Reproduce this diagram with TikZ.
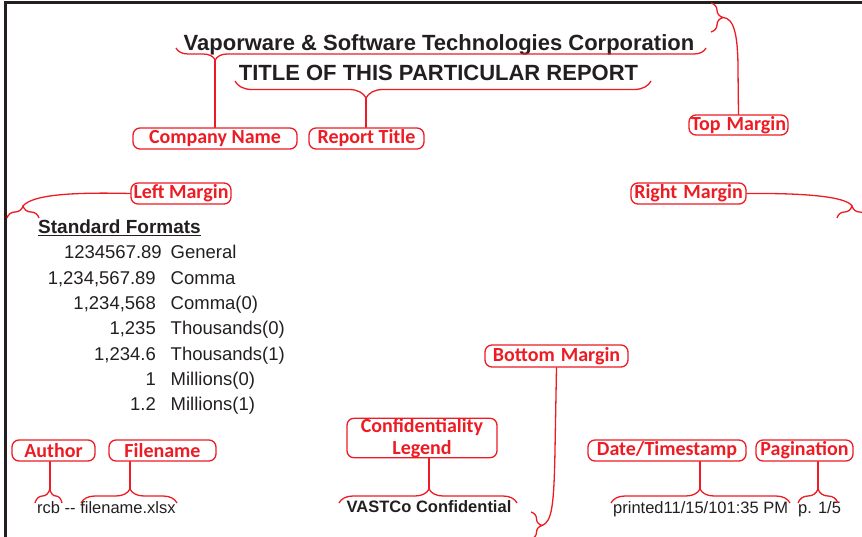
\documentclass[tikz,border=0pt]{standalone}
\usepackage{fontspec}
\setmainfont{Liberation Sans}[Ligatures=TeXOff]
\newfontfamily\lblfont{Carlito}
\usepackage{tikz}
\usetikzlibrary{calc,decorations.pathreplacing}
\definecolor{mark}{HTML}{ED1C24}
\definecolor{ink}{HTML}{231F20}
\tikzset{
  page/.style={draw=ink, line width=3pt},
  lbl/.style={draw=mark, text=mark, line width=1.3pt, rounded corners=7pt, inner sep=0pt,
    minimum height=21pt, font=\lblfont\bfseries\fontsize{20}{21}\selectfont},
  lnk/.style={draw=mark, line width=1.3pt, line cap=round},
  brc/.style={draw=mark, line width=1.3pt, decorate, decoration={brace, amplitude=#1}},
  brc/.default=12pt,
  ttl/.style={text=ink, inner sep=0pt, font=\bfseries\fontsize{22}{26}\selectfont},
  cell/.style={text=ink, inner sep=0pt, font=\fontsize{18.5}{22}\selectfont},
  foot/.style={text=ink, inner sep=0pt, font=\fontsize{16.5}{20}\selectfont},
}
\newcommand\wsp{\hspace{0.3em}}

\begin{document}
\begin{tikzpicture}[x=1pt, y=-1pt]
  \useasboundingbox (0,0) rectangle (862,537);
  \clip (0,0) rectangle (862,537);
  \draw[page] (870,3) -- (5,3) -- (5,545);

  % page text
  \node[ttl, anchor=base] (corp) at (439,51) {Vaporware \& Software Technologies Corporation};
  \node[ttl, anchor=base] (rep) at (438.5,81) {TITLE OF THIS PARTICULAR REPORT};
  \node[cell, anchor=base west, font=\bfseries\fontsize{19}{22}\selectfont] (fmthead) at (38,234) {\underline{Standard Formats}};
  \foreach \i/\nx/\vv/\lab in {1/162/{1234567.89}/General, 2/156/{1,234,567.89}/Comma,
      3/156/{1,234,568}/Comma(0), 4/156/{1,235}/Thousands(0), 5/156/{1,234.6}/Thousands(1),
      6/156/1/Millions(0), 7/156/1.2/Millions(1)} {
    \node[cell, anchor=base east] (num\i) at (\nx, 233.7+25.3*\i) {\vv};
    \node[cell, anchor=base west] (fmt\i) at (170.5, 233.7+25.3*\i) {\lab};
  }
  \node[foot, anchor=base west] (authfile) at (37,513) {rcb -- filename.xlsx};
  \node[foot, anchor=base, font=\bfseries\fontsize{16.5}{20}\selectfont] (vast) at (429,512) {VASTCo Confidential};
  \node[foot, anchor=base west] (stamp) at (613,513) {printed11/15/101:35 PM};
  \node[foot, anchor=base west] (pg) at (798,513) {p. 1/5};

  % labels
  \node[lbl, minimum width=164pt] (comp) at (215,138.5) {Company Name};
  \node[lbl, minimum width=115pt] (rtitle) at (366.5,138.5) {Report Title};
  \node[lbl, minimum width=99pt, minimum height=20pt] (topm) at (738.5,125) {Top\wsp Margin};
  \node[lbl, minimum width=100pt] (leftm) at (181,193.5) {Left Margin};
  \node[lbl, minimum width=115pt] (rightm) at (688.5,193.5) {Right\wsp Margin};
  \node[lbl, minimum width=143pt, minimum height=22pt] (botm) at (556.5,356) {Bottom\wsp Margin};
  \node[lbl, minimum width=150pt, minimum height=39pt, align=center] (conf) at (422,438) {Confidentiality\\[1pt]Legend};
  \node[lbl, minimum width=83pt] (auth) at (53.5,450.5) {Author};
  \node[lbl, minimum width=107pt] (fname) at (162.5,450.5) {Filename};
  \node[lbl, minimum width=158pt] (dts) at (667,450.5) {Date/Timestamp};
  \node[lbl, minimum width=97pt] (pag) at (804.5,450.5) {Pagination};

  % braces
  \draw[brc, decoration={mirror, aspect=0.074}] (176,48) -- (706,48);
  \draw[brc=17pt, decoration={mirror, aspect=0.315}] (235,81) -- (651,81);
  \draw[brc] (711,3) -- (711,32);
  \draw[brc] (7,218) -- (39,218);
  \draw[brc] (837,218) -- (867,218);
  \draw[brc=11pt] (531,512) -- (531,539);
  \draw[brc=14pt, decoration={aspect=0.55}] (35,503) -- (62,503);
  \draw[brc=14pt, decoration={aspect=0.51}] (81,503) -- (177,503);
  \draw[brc=14pt, decoration={aspect=0.506}] (339,503) -- (517,503);
  \draw[brc=14pt, decoration={aspect=0.497}] (611,503) -- (790,503);
  \draw[brc=14pt] (798,503) -- (838,503);
  \coordinate (corpTip) at (215,60);
  \coordinate (repTip) at (366,98);
  \coordinate (topTip) at (723,17.5);
  \coordinate (leftTip) at (23,206);
  \coordinate (rightTip) at (852,206);
  \coordinate (botTip) at (542,525.5);
  \coordinate (authTip) at (50,489);
  \coordinate (fileTip) at (130,489);
  \coordinate (vastTip) at (429,489);
  \coordinate (dateTip) at (700,489);
  \coordinate (pagTip) at (818,489);

  % connectors
  \draw[lnk] (corpTip) -- (corpTip |- comp.north);
  \draw[lnk] (repTip) -- (repTip |- rtitle.north);
  \draw[lnk] (topTip) .. controls (734,18) and (738,35) .. (738,70) -- (topm.north);
  \draw[lnk] (leftm.west) .. controls (70,192) and (32,195) .. (leftTip);
  \draw[lnk] (rightm.east) .. controls (800,193) and (846,196) .. (rightTip);
  \draw[lnk] (botm.south) -- (555,450) .. controls (554,505) and (552,522) .. (botTip);
  \draw[lnk] (authTip) -- (authTip |- auth.south);
  \draw[lnk] (fileTip) -- (fileTip |- fname.south);
  \draw[lnk] (vastTip) -- (vastTip |- conf.south);
  \draw[lnk] (dateTip) -- (dateTip |- dts.south);
  \draw[lnk] (pagTip) -- (pagTip |- pag.south);
\end{tikzpicture}
\end{document}
